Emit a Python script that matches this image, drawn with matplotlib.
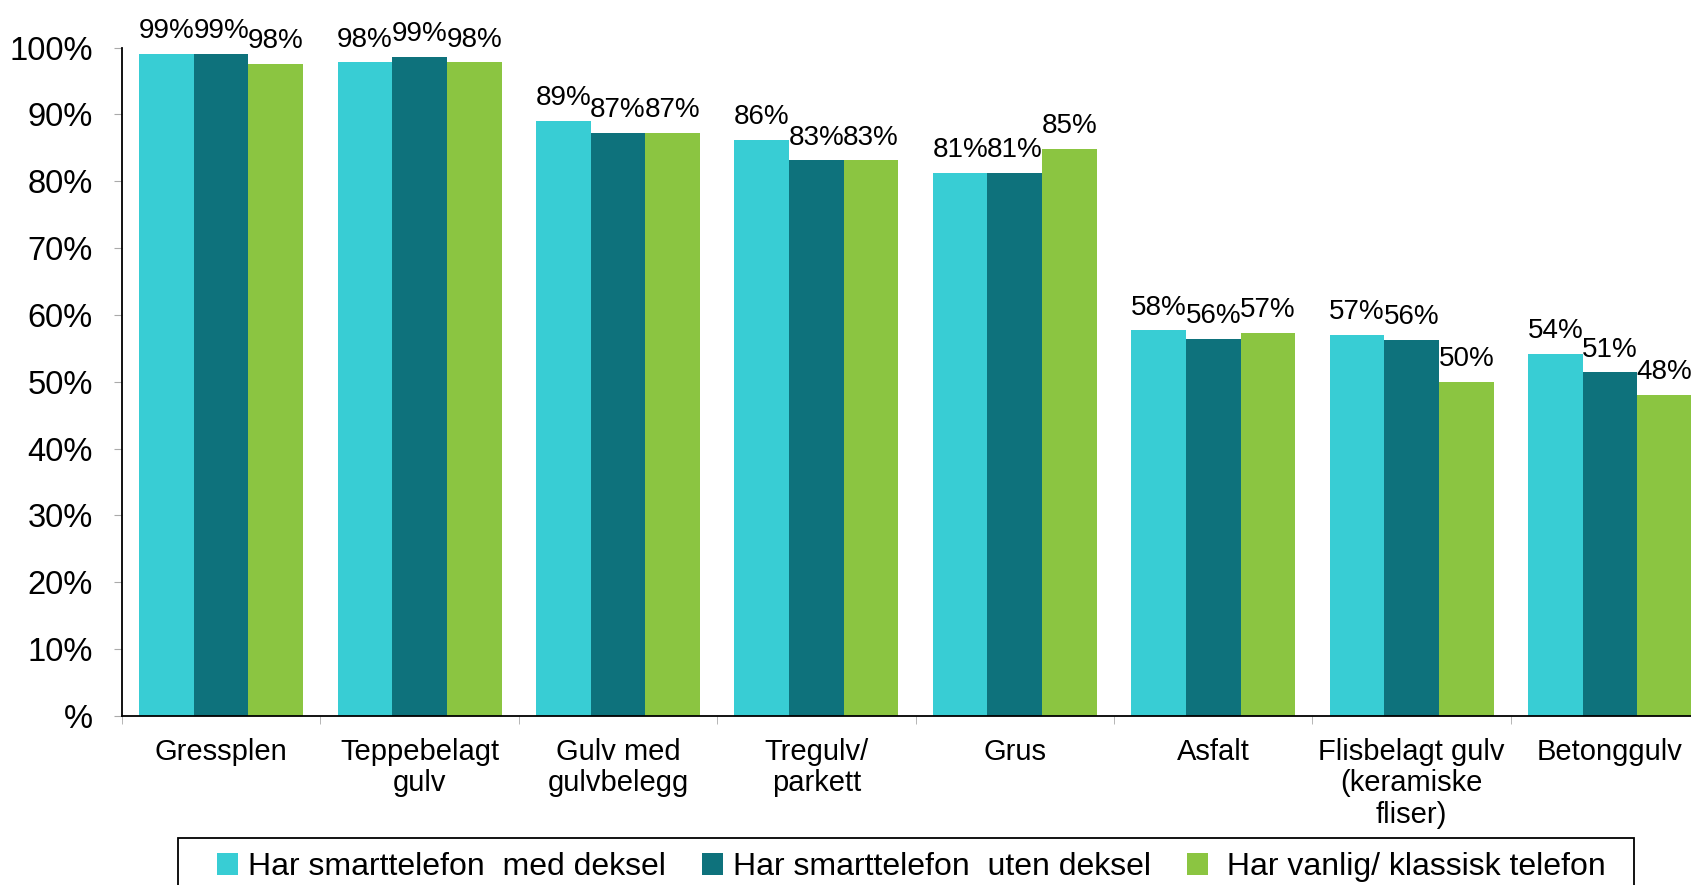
import matplotlib
matplotlib.use("Agg")
import matplotlib.pyplot as plt
from matplotlib.patches import Rectangle
import numpy as np

categories = ["Gressplen", "Teppebelagt\ngulv", "Gulv med\ngulvbelegg", "Tregulv/\nparkett",
              "Grus", "Asfalt", "Flisbelagt gulv\n(keramiske\nfliser)", "Betonggulv"]
series_names = ["Har smarttelefon  med deksel", "Har smarttelefon  uten deksel",
                " Har vanlig/ klassisk telefon"]
med_deksel = [99.0, 97.8, 89.0, 86.2, 81.2, 57.7, 57.0, 54.2]
uten_deksel = [99.1, 98.6, 87.2, 83.1, 81.2, 56.4, 56.3, 51.4]
vanlig = [97.6, 97.8, 87.2, 83.1, 84.8, 57.3, 50.0, 48.0]
yticks = [0, 10, 20, 30, 40, 50, 60, 70, 80, 90, 100]
ytick_labels = ["%", "10%", "20%", "30%", "40%", "50%", "60%", "70%", "80%", "90%", "100%"]

colors = ["#38CDD4", "#0E727C", "#8BC541"]

plt.rcParams['font.family'] = ['Liberation Sans', 'DejaVu Sans']

fig = plt.figure(figsize=(16.91, 8.85), dpi=100)
ax = fig.add_axes([0.0721, 0.191, 0.9387, 0.7553])

x = np.arange(len(categories))
w = 0.2755
for i, (vals, name) in enumerate(zip([med_deksel, uten_deksel, vanlig], series_names)):
    pos = x + (i - 1) * w
    bars = ax.bar(pos, vals, width=w, color=colors[i], label=name, zorder=2)
    for b, v in zip(bars, vals):
        ax.annotate("{}%".format(int(round(v))), (b.get_x() + b.get_width() / 2, v),
                    xytext=(0, 7), textcoords="offset points", ha="center", va="bottom",
                    fontsize=20, annotation_clip=False)

ax.set_xlim(-0.5, len(categories) - 0.5)
ax.set_ylim(0, 100)
ax.set_yticks(yticks)
ax.set_yticklabels(ytick_labels, fontsize=23.5)
ax.set_xticks(x)
ax.set_xticklabels(categories, fontsize=21, linespacing=1.15)
ax.set_xticks(np.arange(-0.5, len(categories), 1), minor=True)
ax.tick_params(axis="x", which="major", length=0, pad=16)
ax.tick_params(axis="x", which="minor", length=6, color="#aaaaaa", direction="out")
ax.tick_params(axis="y", length=6, color="#aaaaaa", pad=15)

for s in ["top", "right"]:
    ax.spines[s].set_visible(False)
ax.spines["left"].set_color("black")
ax.spines["bottom"].set_color("black")
ax.spines["left"].set_linewidth(1.3)
ax.spines["bottom"].set_linewidth(1.3)

leg = fig.legend(loc="center", bbox_to_anchor=(0.539, 0.020), ncol=3, fontsize=23,
                 frameon=False, handlelength=0.65, handleheight=0.65, handletextpad=0.3,
                 columnspacing=1.15, borderpad=0, borderaxespad=0)

# legend box drawn separately (wider side padding than top padding)
fig.patches.append(Rectangle((178 / 1691, -0.05), (1634 - 178) / 1691, 0.05 + (885 - 838) / 885,
                             transform=fig.transFigure, fill=False, edgecolor="black",
                             linewidth=1.3))

fig.savefig("out.png", dpi=100)
